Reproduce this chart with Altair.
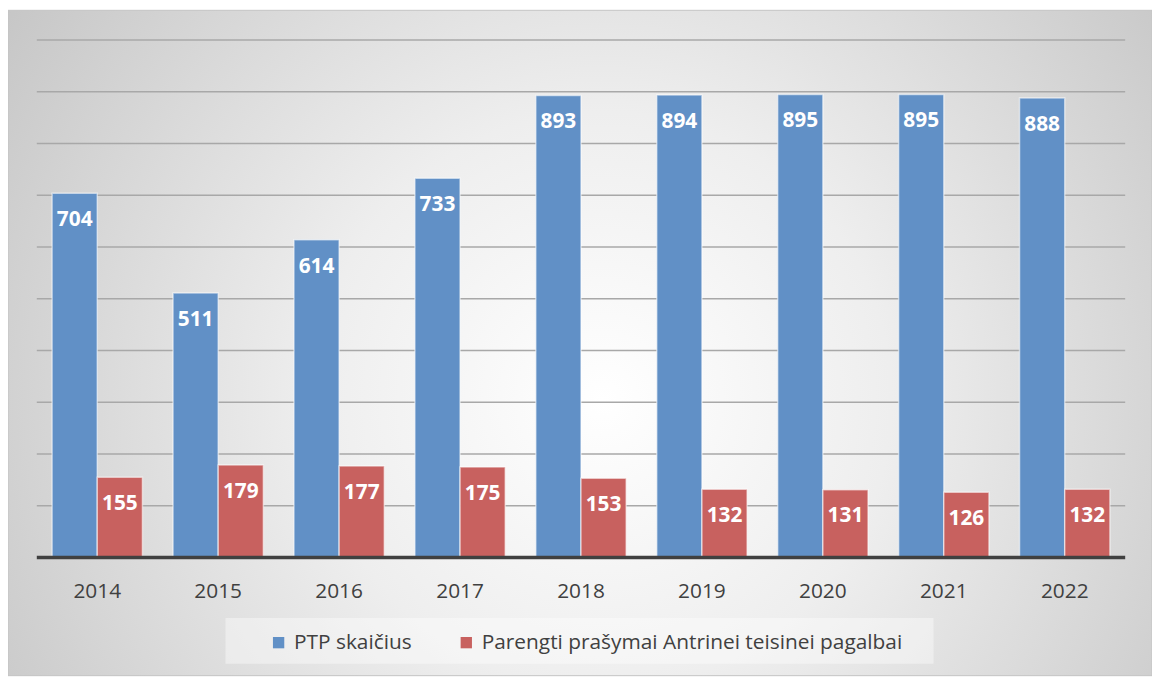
import altair as alt
import pandas as pd

years = ["2014", "2015", "2016", "2017", "2018", "2019", "2020", "2021", "2022"]
ptp = [704, 511, 614, 733, 893, 894, 895, 895, 888]
requests = [155, 179, 177, 175, 153, 132, 131, 126, 132]
series = ["PTP skaičius", "Parengti prašymai Antrinei teisinei pagalbai"]
colors = ["#6190C6", "#C8615F"]
grid_values = [100, 200, 300, 400, 500, 600, 700, 800, 900, 1000]

rows = []
for y, a, b in zip(years, ptp, requests):
    rows.append({"year": y, "series": series[0], "value": a})
    rows.append({"year": y, "series": series[1], "value": b})
df = pd.DataFrame(rows)

W, H = 1096, 521
PAD = {"left": 29, "top": 30, "right": 27, "bottom": 119}
FONT = "Open Sans"

xscale = alt.Scale(domain=years, paddingInner=0.253, paddingOuter=0.1265)
yscale = alt.Scale(domain=[0, 1000], nice=False, zero=True)

one = pd.DataFrame({"a": [0]})

background = alt.Chart(one).mark_rect(
    fill=alt.RadialGradient(
        gradient="radial",
        x1=0.52, y1=0.55, r1=0.0,
        x2=0.52, y2=0.55, r2=0.72,
        stops=[
            alt.GradientStop(color="#ffffff", offset=0.0),
            alt.GradientStop(color="#eeeeee", offset=0.35),
            alt.GradientStop(color="#bcbcbc", offset=1.0),
        ],
    ),
    stroke="#c4c4c4",
    strokeWidth=1,
).encode(
    x=alt.value(-PAD["left"]),
    x2=alt.value(W + PAD["right"]),
    y=alt.value(-PAD["top"]),
    y2=alt.value(H + PAD["bottom"]),
)

grid = alt.Chart(pd.DataFrame({"g": grid_values})).mark_rule(
    color="#a8a8a8", strokeWidth=1.5
).encode(y=alt.Y("g:Q", scale=yscale, axis=None))

legend_box = alt.Chart(one).mark_rect(fill="#ffffff", opacity=0.4).encode(
    x=alt.value(190), x2=alt.value(903), y=alt.value(582), y2=alt.value(628)
)

xaxis = alt.Axis(title=None, labelAngle=0, domain=False, ticks=False, grid=False,
                 labelFont=FONT, labelFontSize=21, labelColor="#404040",
                 labelPadding=23, zindex=2)

bars = alt.Chart(df).mark_bar(
    stroke="#ffffff", strokeOpacity=0.55, strokeWidth=1.5
).encode(
    x=alt.X("year:N", scale=xscale, sort=years, axis=xaxis),
    xOffset=alt.XOffset("series:N", sort=series, scale=alt.Scale(paddingInner=0, paddingOuter=0)),
    y=alt.Y("value:Q", scale=yscale, axis=None),
    color=alt.Color("series:N", sort=series,
                    scale=alt.Scale(domain=series, range=colors),
                    legend=alt.Legend(title=None, orient="none", legendX=233, legendY=596,
                                      direction="horizontal", symbolType="square",
                                      symbolSize=130, symbolStrokeWidth=0,
                                      labelFont=FONT, labelFontSize=21, labelLimit=0,
                                      labelColor="#404040", columnPadding=44,
                                      labelOffset=5)),
)

labels = alt.Chart(df).mark_text(
    dy=27, baseline="middle", align="center", font=FONT, fontSize=21,
    fontWeight="bold", color="#ffffff"
).encode(
    x=alt.X("year:N", scale=xscale, sort=years, axis=xaxis),
    xOffset=alt.XOffset("series:N", sort=series),
    y=alt.Y("value:Q", scale=yscale, axis=None),
    text=alt.Text("value:Q"),
)

baseline = alt.Chart(pd.DataFrame({"z": [0]})).mark_rule(
    color="#404040", strokeWidth=3.5
).encode(y=alt.Y("z:Q", scale=yscale, axis=None))

chart = alt.layer(background, grid, legend_box, bars, labels, baseline).properties(
    width=W, height=H, padding=PAD, autosize=alt.AutoSizeParams(type="none"),
).configure_view(stroke=None)

chart.save("out.html", embed_options={"renderer": "svg", "actions": False})
